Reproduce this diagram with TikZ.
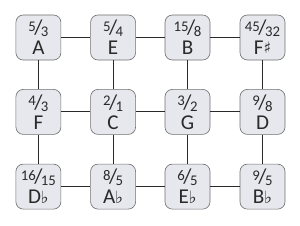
\documentclass[tikz,border=0pt]{standalone}
\usepackage{fontspec}
\setmainfont{Carlito}
\newfontfamily\symfont{DejaVu Sans}
\usetikzlibrary{positioning}
\definecolor{boxfill}{HTML}{E6E8ED}
\definecolor{boxline}{HTML}{707070}
\definecolor{ink}{HTML}{2A2A2A}
\newcommand{\ratio}[2]{{\fontsize{14}{14}\selectfont\raisebox{0.5ex}{#1}\kern-0.1em{\fontsize{20}{20}\selectfont/}\kern-0.1em\raisebox{-0.3ex}{#2}}}
\newcommand{\shrp}{{\symfont\fontsize{15}{15}\selectfont\raisebox{0.1ex}{♯}}}
\newcommand{\flt}{{\symfont\fontsize{16}{16}\selectfont\kern-0.02em♭}}

\begin{document}
\begin{tikzpicture}[
  x=1cm, y=1cm,
  tone/.style={draw=boxline, fill=boxfill, rounded corners=7pt, line width=0.6pt,
    minimum width=1.5cm, minimum height=1.5cm, inner sep=0pt, align=center,
    font=\fontsize{20}{19}\selectfont, text=ink},
  link/.style={ink, line width=0.8pt}]
  \useasboundingbox (0,0) rectangle (10,7.5);
  % top row
  \node[tone] (a)  at (1.28,6.25) {\ratio{5}{3}\\A};
  \node[tone] (e)  at (3.77,6.25) {\ratio{5}{4}\\E};
  \node[tone] (b)  at (6.25,6.25) {\ratio{15}{8}\\B};
  \node[tone] (fs) at (8.75,6.25) {\ratio{45}{32}\\F\shrp};
  % middle row
  \node[tone] (f) at (1.28,3.77) {\ratio{4}{3}\\F};
  \node[tone] (c) at (3.77,3.77) {\ratio{2}{1}\\C};
  \node[tone] (g) at (6.25,3.77) {\ratio{3}{2}\\G};
  \node[tone] (d) at (8.75,3.77) {\ratio{9}{8}\\D};
  % bottom row
  \node[tone] (db) at (1.28,1.28) {\ratio{16}{15}\\D\flt};
  \node[tone] (ab) at (3.77,1.28) {\ratio{8}{5}\\A\flt};
  \node[tone] (eb) at (6.25,1.28) {\ratio{6}{5}\\E\flt};
  \node[tone] (bb) at (8.75,1.28) {\ratio{9}{5}\\B\flt};
  % links
  \draw[link] (a) -- (e) (e) -- (b) (b) -- (fs);
  \draw[link] (f) -- (c) (c) -- (g) (g) -- (d);
  \draw[link] (db) -- (ab) (ab) -- (eb) (eb) -- (bb);
  \draw[link] (a) -- (f) (f) -- (db);
  \draw[link] (e) -- (c) (c) -- (ab);
  \draw[link] (b) -- (g) (g) -- (eb);
  \draw[link] (fs) -- (d) (d) -- (bb);
\end{tikzpicture}
\end{document}
